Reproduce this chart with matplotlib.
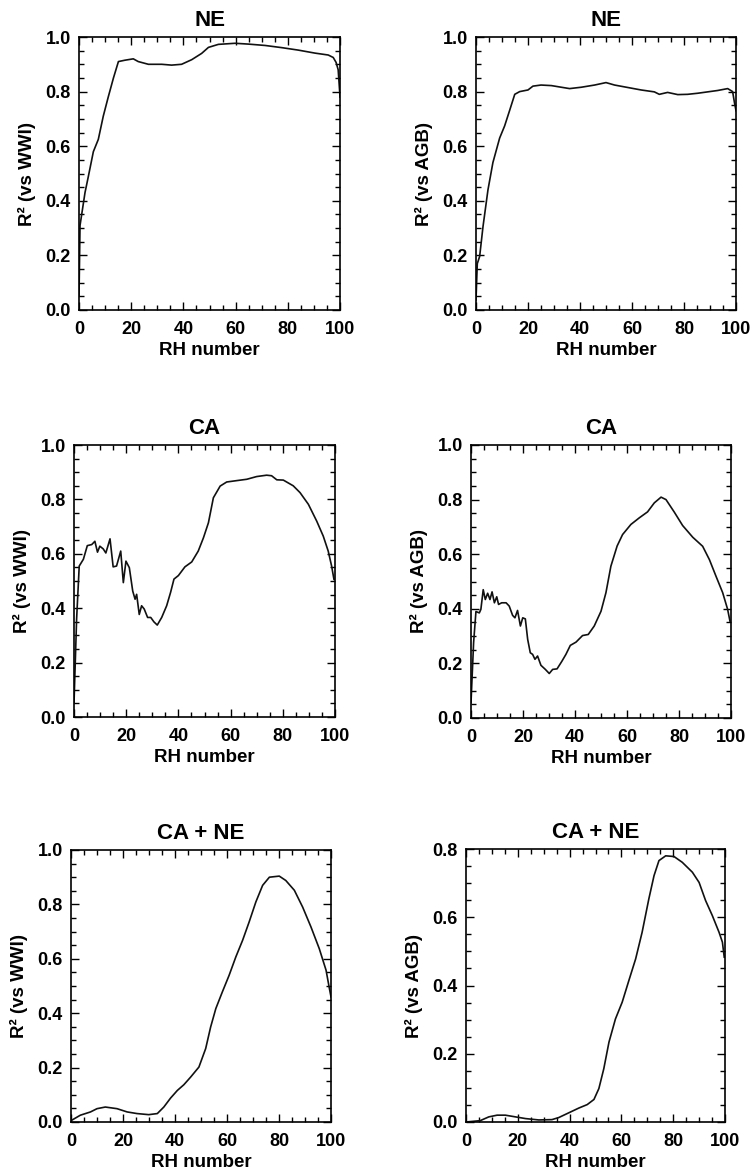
import numpy as np
import matplotlib
matplotlib.use("Agg")
import matplotlib.pyplot as plt
from matplotlib.ticker import MultipleLocator, FormatStrFormatter

plt.rcParams['font.family'] = ['Liberation Sans', 'DejaVu Sans']
plt.rcParams['font.weight'] = 'bold'

# ---------------- data ----------------
ne_wwi_x = [0, 0.4, 2.3, 3.6, 5.5, 7.4, 9.3, 11.2, 13.2, 15.1, 17.6, 20.8, 22.7, 26.6, 31.7,
            35.5, 39.3, 43.2, 47, 49.6, 53.4, 59.8, 64.9, 71.3, 77.7, 84, 90.4, 95.5, 97.4,
            98.5, 99.3, 99.8, 100]
ne_wwi_y = [0.05, 0.31, 0.43, 0.49, 0.58, 0.625, 0.71, 0.78, 0.85, 0.91, 0.915, 0.92, 0.91,
            0.90, 0.90, 0.897, 0.90, 0.917, 0.94, 0.962, 0.973, 0.977, 0.974, 0.969, 0.961,
            0.952, 0.941, 0.934, 0.925, 0.907, 0.88, 0.81, 0.78]

ne_agb_x = [0, 0.5, 1.4, 2.7, 4.6, 6.5, 9.1, 11, 12.9, 14.9, 16.8, 20, 21.9, 25, 29, 32.8,
            36, 40.5, 45.6, 50, 53.3, 58.4, 63.5, 68.6, 70.5, 73.7, 77.6, 81.4, 85.3, 89.1,
            92.9, 96.8, 98.7, 99.4, 100]
ne_agb_y = [0.037, 0.17, 0.196, 0.306, 0.44, 0.54, 0.63, 0.674, 0.73, 0.79, 0.80, 0.806,
            0.82, 0.824, 0.822, 0.816, 0.811, 0.816, 0.824, 0.833, 0.824, 0.815, 0.806,
            0.799, 0.79, 0.797, 0.789, 0.79, 0.794, 0.799, 0.804, 0.811, 0.80, 0.76, 0.73]

ca_wwi_x = [0, 1, 2, 3.6, 5.1, 6.8, 8, 9, 9.9, 11.2, 12.2, 13.8, 15, 16.3, 17.9, 18.9, 19.9,
            21.2, 22.5, 23.4, 24, 25, 25.9, 26.9, 28.2, 29.4, 30.6, 31.9, 33.6, 35.5, 37,
            38.3, 40, 42.5, 45.1, 47.6, 49.6, 51.5, 53.4, 56, 58.5, 62.3, 66.2, 70, 73.8,
            75.7, 77.7, 80.2, 84, 86.6, 89.8, 93, 95.5, 97.4, 98.7, 99.6]
ca_wwi_y = [0.05, 0.36, 0.555, 0.58, 0.63, 0.634, 0.646, 0.606, 0.628, 0.618, 0.603, 0.655,
            0.552, 0.555, 0.610, 0.494, 0.573, 0.549, 0.463, 0.433, 0.451, 0.377, 0.409,
            0.397, 0.366, 0.366, 0.35, 0.338, 0.366, 0.409, 0.458, 0.507, 0.52, 0.552, 0.570,
            0.61, 0.659, 0.714, 0.806, 0.849, 0.864, 0.869, 0.874, 0.884, 0.889, 0.887,
            0.872, 0.871, 0.85, 0.825, 0.782, 0.72, 0.665, 0.61, 0.555, 0.506]

ca_agb_x = [0, 1, 1.9, 3.2, 3.8, 4.7, 5.5, 6.4, 7.3, 8.1, 9, 9.9, 10.6, 11.8, 13.5, 14.7,
            16, 16.9, 17.9, 19, 19.9, 20.9, 21.8, 22.8, 23.7, 24.6, 25.6, 26.9, 28.6, 30.1,
            31.4, 33.1, 34.9, 36.5, 38.2, 40.4, 42.9, 45.1, 47.4, 50, 51.9, 53.8, 56.2,
            58.3, 61.5, 64.7, 67.9, 70.5, 73.1, 75, 78.2, 81.4, 85.3, 89.1, 91.7, 94.2,
            96.8, 98.7, 99.6]
ca_agb_y = [0.056, 0.276, 0.39, 0.385, 0.398, 0.47, 0.434, 0.457, 0.434, 0.462, 0.422,
            0.444, 0.416, 0.422, 0.422, 0.41, 0.376, 0.367, 0.394, 0.337, 0.367, 0.363,
            0.288, 0.239, 0.233, 0.215, 0.227, 0.193, 0.178, 0.163, 0.178, 0.18, 0.207,
            0.233, 0.266, 0.278, 0.302, 0.306, 0.337, 0.391, 0.459, 0.556, 0.63, 0.672,
            0.709, 0.733, 0.755, 0.788, 0.809, 0.80, 0.754, 0.705, 0.662, 0.629, 0.58,
            0.52, 0.459, 0.398, 0.355]

all_wwi_x = [0, 3.6, 7.5, 10, 13.2, 17.7, 21.6, 25.4, 29.9, 33.2, 35.7, 38.3, 40.9, 43.4,
             46, 49.2, 51.8, 53.7, 55.7, 58.2, 60.8, 63.4, 66, 68.5, 71.1, 73.7, 76.3,
             80.1, 82.6, 85.9, 89.1, 92.3, 95.5, 98.1, 99.4, 100]
all_wwi_y = [0.005, 0.025, 0.037, 0.049, 0.055, 0.049, 0.037, 0.031, 0.027, 0.031, 0.055,
             0.088, 0.116, 0.137, 0.165, 0.202, 0.27, 0.349, 0.417, 0.478, 0.539, 0.607,
             0.668, 0.735, 0.809, 0.87, 0.90, 0.904, 0.888, 0.852, 0.79, 0.717, 0.637,
             0.558, 0.49, 0.46]

all_agb_x = [0, 5.5, 8.8, 12, 15.2, 19.1, 23, 28.1, 33.2, 35.8, 39.7, 43.6, 46.8, 49.4,
             51.3, 53.2, 55.2, 57.7, 60.3, 62.9, 65.5, 68, 70.6, 72.6, 74.5, 77.1, 80.3,
             83.5, 87.4, 90, 92.5, 95.1, 97.7, 99, 99.7]
all_agb_y = [0.0, 0.004, 0.015, 0.02, 0.02, 0.015, 0.01, 0.006, 0.007, 0.013, 0.027, 0.041,
             0.051, 0.066, 0.098, 0.156, 0.234, 0.302, 0.351, 0.415, 0.478, 0.556, 0.654,
             0.722, 0.766, 0.78, 0.778, 0.761, 0.732, 0.702, 0.649, 0.605, 0.556, 0.527,
             0.483]

titles = ["NE", "NE", "CA", "CA", "CA + NE", "CA + NE"]
ylabels = ["R\u00b2 (vs WWI)", "R\u00b2 (vs AGB)"] * 3
series = [(ne_wwi_x, ne_wwi_y), (ne_agb_x, ne_agb_y), (ca_wwi_x, ca_wwi_y),
          (ca_agb_x, ca_agb_y), (all_wwi_x, all_wwi_y), (all_agb_x, all_agb_y)]
ytops = [1.0, 1.0, 1.0, 1.0, 1.0, 0.8]

# axes boxes in pixels: (left, top, right, bottom)
W, H = 754, 1176
boxes = [(79, 37, 340, 310), (476, 37, 736, 310),
         (74, 445, 335, 717), (471, 445, 731, 718),
         (71, 850, 331, 1122), (466, 849, 725, 1122)]

fig = plt.figure(figsize=(W / 100, H / 100), dpi=100)
for i in range(6):
    l, t, r, b = boxes[i]
    ax = fig.add_axes([l / W, 1 - b / H, (r - l) / W, (b - t) / H])
    x, y = series[i]
    ax.plot(x, y, color='#111111', lw=1.2)
    ax.set_xlim(0, 100)
    ax.set_ylim(0, ytops[i])
    ax.xaxis.set_major_locator(MultipleLocator(20))
    ax.xaxis.set_minor_locator(MultipleLocator(5))
    ax.yaxis.set_major_locator(MultipleLocator(0.2))
    ax.yaxis.set_minor_locator(MultipleLocator(0.05))
    ax.yaxis.set_major_formatter(FormatStrFormatter('%.1f'))
    ax.tick_params(which='both', direction='in', top=True, right=True, width=1.0,
                   labelsize=13, color='black')
    ax.tick_params(which='major', length=6)
    ax.tick_params(axis='x', which='major', pad=8)
    ax.tick_params(axis='y', which='major', pad=6)
    ax.tick_params(which='minor', length=3.5)
    for s in ax.spines.values():
        s.set_linewidth(1.2)
    for lab in ax.get_xticklabels() + ax.get_yticklabels():
        lab.set_fontweight('bold')
    ax.set_title(titles[i], fontsize=16, fontweight='bold', pad=8)
    ax.set_xlabel("RH number", fontsize=13.5, fontweight='bold', labelpad=3)
    ax.set_ylabel(ylabels[i], fontsize=13.5, fontweight='bold', labelpad=7)

fig.savefig("out.png", dpi=100)
